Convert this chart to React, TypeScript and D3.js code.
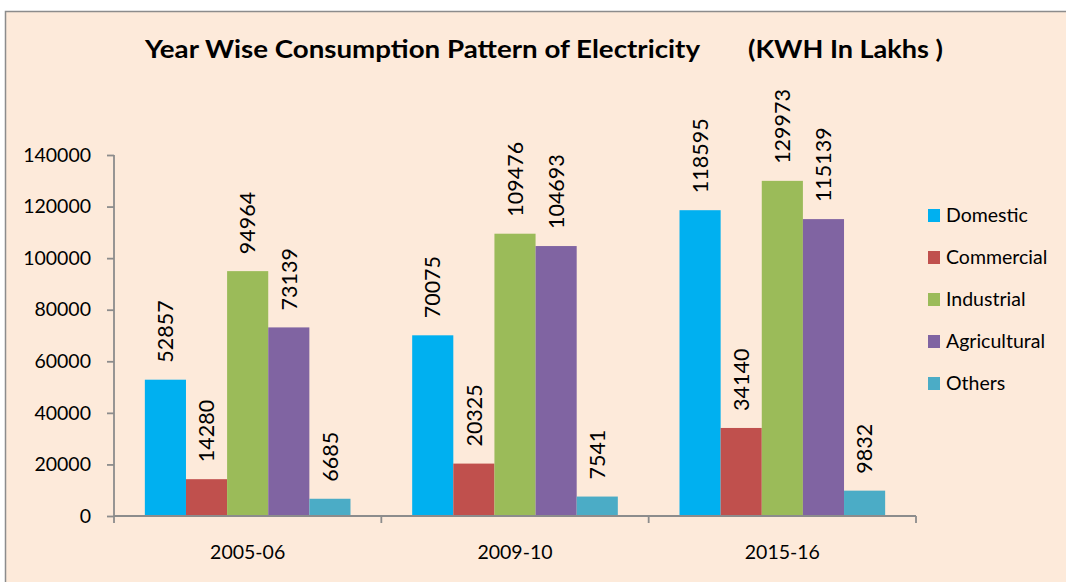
import { useRef, useEffect } from 'react';
import * as d3 from 'd3';

const years = ['2005-06', '2009-10', '2015-16'];
const sectors = ['Domestic', 'Commercial', 'Industrial', 'Agricultural', 'Others'];
const sectorColors = ['#00B0F0', '#C0504D', '#9BBB59', '#8064A2', '#4BACC6'];
const domestic = [52857, 70075, 118595];
const commercial = [14280, 20325, 34140];
const industrial = [94964, 109476, 129973];
const agricultural = [73139, 104693, 115139];
const others = [6685, 7541, 9832];
const yTicks = [0, 20000, 40000, 60000, 80000, 100000, 120000, 140000];

const seriesValues = [domestic, commercial, industrial, agricultural, others];

const App = () => {
  const svgRef = useRef<SVGSVGElement>(null);

  useEffect(() => {
    const svg = d3.select(svgRef.current);
    svg.selectAll('*').remove();
    const width = 1066;
    const height = 582;
    const font = 'Lato, "Open Sans", sans-serif';

    svg.attr('width', width).attr('height', height)
      .style('font-family', font);

    // chart area frame
    svg.append('rect')
      .attr('x', 5.5).attr('y', 11.5)
      .attr('width', 1080).attr('height', 600)
      .attr('fill', '#FDEADA')
      .attr('stroke', '#8C8C8C')
      .attr('stroke-width', 1.5);

    const x0 = d3.scaleBand().domain(years).range([114, 916]).padding(0);
    const x1 = d3.scaleBand().domain(sectors).range([0, x0.bandwidth()])
      .paddingInner(0).paddingOuter(0.75);
    const y = d3.scaleLinear().domain([0, 140000]).range([516, 155]);

    // title (stretched a bit to match the original's wide bold face)
    const title = svg.append('g')
      .attr('font-weight', 700)
      .attr('font-size', 24)
      .attr('fill', '#000');
    title.append('text').attr('x', 145).attr('y', 58)
      .attr('textLength', 555).attr('lengthAdjust', 'spacingAndGlyphs')
      .text('Year Wise Consumption Pattern of Electricity');
    title.append('text').attr('x', 748).attr('y', 58)
      .attr('textLength', 195).attr('lengthAdjust', 'spacingAndGlyphs')
      .text('(KWH In Lakhs )');

    // bars
    const groups = svg.append('g').selectAll('g')
      .data(years)
      .join('g')
      .attr('transform', d => `translate(${x0(d)},0)`);

    groups.each(function (yr, yi) {
      const g = d3.select(this);
      sectors.forEach((s, si) => {
        const v = seriesValues[si][yi];
        g.append('rect')
          .attr('x', x1(s)!)
          .attr('y', y(v))
          .attr('width', x1.bandwidth())
          .attr('height', y(0) - y(v))
          .attr('fill', sectorColors[si]);
        const cx = x1(s)! + x1.bandwidth() / 2;
        g.append('text')
          .attr('transform', `translate(${cx},${y(v) - 17}) rotate(-90)`)
          .attr('text-anchor', 'start')
          .attr('dy', '0.36em')
          .attr('font-size', 21.5)
          .attr('fill', '#000')
          .text(v);
      });
    });

    // y axis
    const yAxis = svg.append('g').attr('transform', 'translate(114,0)')
      .call(d3.axisLeft(y).tickValues(yTicks).tickSize(7).tickPadding(16).tickFormat(d3.format('d')));
    yAxis.selectAll('path, line').attr('stroke', '#8C8C8C').attr('stroke-width', 1.8);
    yAxis.select('.domain').attr('d', `M0,${y(140000)}V${y(0)}`);
    yAxis.selectAll('text').attr('font-size', 19.5).attr('font-family', font).attr('fill', '#000');

    // x axis
    const xg = svg.append('g');
    xg.append('line')
      .attr('x1', 114).attr('x2', 916)
      .attr('y1', y(0)).attr('y2', y(0))
      .attr('stroke', '#8C8C8C').attr('stroke-width', 1.8);
    const bounds = [...years.map(d => x0(d)!), x0(years[years.length - 1])! + x0.bandwidth()];
    xg.selectAll('line.tick')
      .data(bounds)
      .join('line')
      .attr('class', 'tick')
      .attr('x1', d => d).attr('x2', d => d)
      .attr('y1', y(0)).attr('y2', y(0) + 7)
      .attr('stroke', '#8C8C8C').attr('stroke-width', 1.8);
    xg.selectAll('text')
      .data(years)
      .join('text')
      .attr('x', d => x0(d)! + x0.bandwidth() / 2)
      .attr('y', 559)
      .attr('text-anchor', 'middle')
      .attr('font-size', 19.5)
      .attr('fill', '#000')
      .text(d => d);

    // legend
    const legend = svg.append('g').attr('transform', 'translate(928,0)');
    sectors.forEach((s, i) => {
      const ly = 215 + i * 42;
      legend.append('rect')
        .attr('x', 0).attr('y', ly - 6)
        .attr('width', 12).attr('height', 13)
        .attr('fill', sectorColors[i]);
      legend.append('text')
        .attr('x', 18).attr('y', ly)
        .attr('dy', '0.35em')
        .attr('font-size', 19.5)
        .attr('fill', '#000')
        .text(s);
    });
  }, []);

  return (
    <svg ref={svgRef} style={{ position: 'absolute', left: 0, top: 0 }}></svg>
  );
};

export default App;
